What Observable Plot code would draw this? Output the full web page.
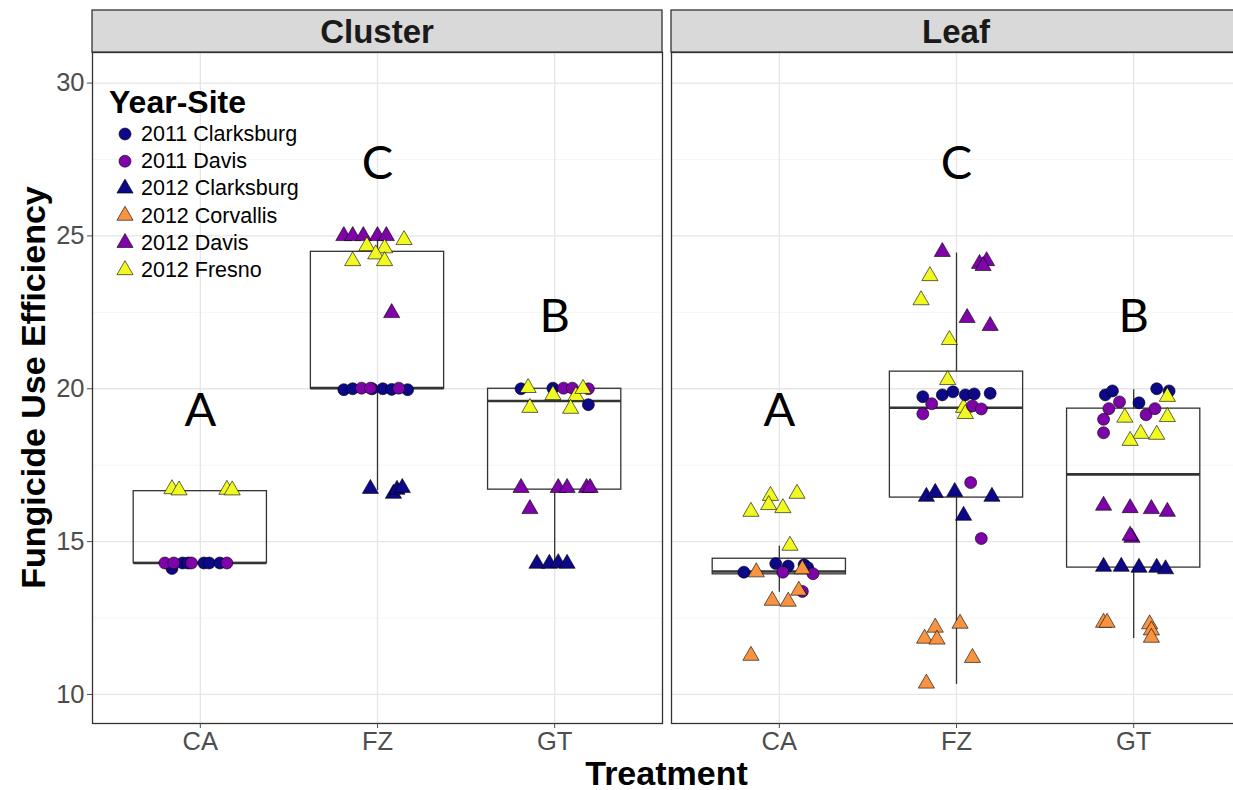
<!DOCTYPE html>
<html>
<head>
<meta charset="utf-8">
<script src="https://cdn.jsdelivr.net/npm/d3@7"></script>
<script src="https://cdn.jsdelivr.net/npm/@observablehq/plot@0.6"></script>
<style>
  html, body { margin: 0; padding: 0; background: #fff; overflow: hidden; }
  #chart { position: relative; width: 1242px; height: 790px; }
</style>
</head>
<body>
<div id="chart"></div>
<script>
// ---------------- data ----------------
const panels = ["Cluster", "Leaf"];
const treatments = ["CA", "FZ", "GT"];
const yearSites = ["2011 Clarksburg", "2011 Davis", "2012 Clarksburg", "2012 Corvallis", "2012 Davis", "2012 Fresno"];
const siteColors = ["#0D0887", "#7E03A8", "#0D0887", "#F89441", "#7E03A8", "#F0F921"];
const siteShapes = ["circle", "circle", "triangle", "triangle", "triangle", "triangle"];
const yTicks = [10, 15, 20, 25, 30];
const yMinorTicks = [12.5, 17.5, 22.5, 27.5];

// [treatment, year-site, fungicide use efficiency, horizontal jitter (category units)]
const clusterPoints = [
  ["CA", "2012 Fresno", 16.72, -0.16], ["CA", "2012 Fresno", 16.68, -0.12], ["CA", "2012 Fresno", 16.70, 0.15], ["CA", "2012 Fresno", 16.68, 0.18],
  ["CA", "2011 Clarksburg", 14.12, -0.16], ["CA", "2011 Clarksburg", 14.30, -0.10], ["CA", "2011 Clarksburg", 14.30, -0.07],
  ["CA", "2011 Clarksburg", 14.30, 0.02], ["CA", "2011 Clarksburg", 14.30, 0.05], ["CA", "2011 Clarksburg", 14.30, 0.11],
  ["CA", "2011 Davis", 14.30, -0.20], ["CA", "2011 Davis", 14.30, -0.15], ["CA", "2011 Davis", 14.30, -0.05], ["CA", "2011 Davis", 14.30, 0.15],

  ["FZ", "2012 Davis", 25.00, -0.19], ["FZ", "2012 Davis", 25.00, -0.14], ["FZ", "2012 Davis", 25.00, -0.08], ["FZ", "2012 Davis", 25.00, 0.00], ["FZ", "2012 Davis", 25.00, 0.05],
  ["FZ", "2012 Fresno", 24.87, 0.15], ["FZ", "2012 Fresno", 24.67, -0.06], ["FZ", "2012 Fresno", 24.60, 0.04], ["FZ", "2012 Fresno", 24.40, -0.01], ["FZ", "2012 Fresno", 24.18, -0.14], ["FZ", "2012 Fresno", 24.18, 0.04],
  ["FZ", "2012 Davis", 22.48, 0.08],
  ["FZ", "2011 Clarksburg", 19.97, -0.19], ["FZ", "2011 Clarksburg", 20.00, -0.14], ["FZ", "2011 Clarksburg", 20.00, -0.03], ["FZ", "2011 Clarksburg", 20.00, 0.03], ["FZ", "2011 Clarksburg", 19.98, 0.08], ["FZ", "2011 Clarksburg", 19.97, 0.17],
  ["FZ", "2011 Davis", 20.02, -0.09], ["FZ", "2011 Davis", 20.02, -0.04], ["FZ", "2011 Davis", 20.02, 0.12],
  ["FZ", "2012 Clarksburg", 16.73, -0.04], ["FZ", "2012 Clarksburg", 16.57, 0.09], ["FZ", "2012 Clarksburg", 16.70, 0.11], ["FZ", "2012 Clarksburg", 16.76, 0.14],

  ["GT", "2011 Clarksburg", 20.00, -0.19], ["GT", "2011 Clarksburg", 20.02, -0.01], ["GT", "2011 Clarksburg", 19.48, 0.19],
  ["GT", "2011 Davis", 20.02, 0.05], ["GT", "2011 Davis", 20.02, 0.10], ["GT", "2011 Davis", 20.00, 0.19],
  ["GT", "2012 Fresno", 20.03, -0.15], ["GT", "2012 Fresno", 19.38, -0.14], ["GT", "2012 Fresno", 19.80, -0.01], ["GT", "2012 Fresno", 19.77, 0.12], ["GT", "2012 Fresno", 20.00, 0.16], ["GT", "2012 Fresno", 19.35, 0.09],
  ["GT", "2012 Davis", 16.76, -0.19], ["GT", "2012 Davis", 16.76, 0.02], ["GT", "2012 Davis", 16.76, 0.07], ["GT", "2012 Davis", 16.76, 0.18], ["GT", "2012 Davis", 16.76, 0.20], ["GT", "2012 Davis", 16.07, -0.14],
  ["GT", "2012 Clarksburg", 14.28, -0.10], ["GT", "2012 Clarksburg", 14.28, -0.03], ["GT", "2012 Clarksburg", 14.30, 0.02], ["GT", "2012 Clarksburg", 14.28, 0.07]
];

const leafPoints = [
  ["CA", "2012 Fresno", 16.50, -0.05], ["CA", "2012 Fresno", 16.57, 0.10], ["CA", "2012 Fresno", 16.20, -0.06], ["CA", "2012 Fresno", 16.10, 0.02], ["CA", "2012 Fresno", 15.98, -0.16], ["CA", "2012 Fresno", 14.87, 0.06],
  ["CA", "2011 Clarksburg", 14.00, -0.20], ["CA", "2011 Clarksburg", 14.28, -0.02], ["CA", "2011 Clarksburg", 14.20, 0.05], ["CA", "2011 Clarksburg", 14.24, 0.14], ["CA", "2011 Clarksburg", 14.15, 0.16],
  ["CA", "2011 Davis", 14.00, 0.02], ["CA", "2011 Davis", 13.95, 0.19], ["CA", "2011 Davis", 13.37, 0.13],
  ["CA", "2012 Corvallis", 14.00, -0.13], ["CA", "2012 Corvallis", 14.10, 0.13], ["CA", "2012 Corvallis", 13.40, 0.11], ["CA", "2012 Corvallis", 13.07, -0.04], ["CA", "2012 Corvallis", 13.04, 0.05], ["CA", "2012 Corvallis", 11.27, -0.16],

  ["FZ", "2012 Davis", 24.48, -0.08], ["FZ", "2012 Davis", 24.09, 0.13], ["FZ", "2012 Davis", 24.18, 0.17], ["FZ", "2012 Davis", 24.02, 0.15], ["FZ", "2012 Davis", 22.32, 0.06], ["FZ", "2012 Davis", 22.06, 0.19],
  ["FZ", "2012 Fresno", 23.69, -0.15], ["FZ", "2012 Fresno", 22.90, -0.20], ["FZ", "2012 Fresno", 21.60, -0.04], ["FZ", "2012 Fresno", 20.29, -0.05], ["FZ", "2012 Fresno", 19.38, 0.04], ["FZ", "2012 Fresno", 19.18, 0.05],
  ["FZ", "2011 Clarksburg", 19.74, -0.19], ["FZ", "2011 Clarksburg", 19.80, -0.08], ["FZ", "2011 Clarksburg", 19.90, -0.02], ["FZ", "2011 Clarksburg", 19.80, 0.05], ["FZ", "2011 Clarksburg", 19.83, 0.10], ["FZ", "2011 Clarksburg", 19.85, 0.19],
  ["FZ", "2011 Davis", 19.51, -0.14], ["FZ", "2011 Davis", 19.18, -0.19], ["FZ", "2011 Davis", 19.44, 0.09], ["FZ", "2011 Davis", 19.34, 0.14], ["FZ", "2011 Davis", 16.93, 0.08], ["FZ", "2011 Davis", 15.10, 0.14],
  ["FZ", "2012 Clarksburg", 16.47, -0.17], ["FZ", "2012 Clarksburg", 16.60, -0.12], ["FZ", "2012 Clarksburg", 16.63, -0.01], ["FZ", "2012 Clarksburg", 16.47, 0.20], ["FZ", "2012 Clarksburg", 15.85, 0.04],
  ["FZ", "2012 Corvallis", 12.19, -0.12], ["FZ", "2012 Corvallis", 12.32, 0.02], ["FZ", "2012 Corvallis", 11.83, -0.18], ["FZ", "2012 Corvallis", 11.80, -0.11], ["FZ", "2012 Corvallis", 11.20, 0.09], ["FZ", "2012 Corvallis", 10.36, -0.17],

  ["GT", "2011 Clarksburg", 19.80, -0.16], ["GT", "2011 Clarksburg", 19.93, -0.12], ["GT", "2011 Clarksburg", 20.00, 0.13], ["GT", "2011 Clarksburg", 19.93, 0.20], ["GT", "2011 Clarksburg", 19.54, 0.03],
  ["GT", "2011 Davis", 19.57, -0.08], ["GT", "2011 Davis", 19.35, -0.14], ["GT", "2011 Davis", 19.00, -0.17], ["GT", "2011 Davis", 18.56, -0.17], ["GT", "2011 Davis", 19.15, 0.07], ["GT", "2011 Davis", 19.35, 0.12],
  ["GT", "2012 Fresno", 19.74, 0.19], ["GT", "2012 Fresno", 19.06, -0.05], ["GT", "2012 Fresno", 19.08, 0.19], ["GT", "2012 Fresno", 18.53, 0.04], ["GT", "2012 Fresno", 18.50, 0.13], ["GT", "2012 Fresno", 18.30, -0.02],
  ["GT", "2012 Davis", 16.18, -0.17], ["GT", "2012 Davis", 16.10, -0.02], ["GT", "2012 Davis", 16.07, 0.10], ["GT", "2012 Davis", 15.98, 0.19], ["GT", "2012 Davis", 15.13, -0.01], ["GT", "2012 Davis", 15.20, -0.02],
  ["GT", "2012 Clarksburg", 14.18, -0.17], ["GT", "2012 Clarksburg", 14.18, -0.07], ["GT", "2012 Clarksburg", 14.15, 0.03], ["GT", "2012 Clarksburg", 14.15, 0.13], ["GT", "2012 Clarksburg", 14.10, 0.18],
  ["GT", "2012 Corvallis", 12.35, -0.17], ["GT", "2012 Corvallis", 12.35, -0.15], ["GT", "2012 Corvallis", 12.30, 0.09], ["GT", "2012 Corvallis", 12.10, 0.10], ["GT", "2012 Corvallis", 11.86, 0.10]
];

// box-plot statistics
const boxPanel = ["Cluster", "Cluster", "Cluster", "Leaf", "Leaf", "Leaf"];
const boxTreatment = ["CA", "FZ", "GT", "CA", "FZ", "GT"];
const boxLow = [14.30, 16.67, 14.30, 13.34, 10.33, 11.83];
const boxQ1 = [14.30, 20.00, 16.70, 13.93, 16.44, 14.15];
const boxMedian = [14.30, 20.02, 19.60, 14.02, 19.38, 17.20];
const boxQ3 = [16.65, 24.48, 20.00, 14.44, 20.56, 19.35];
const boxHigh = [16.65, 25.00, 20.00, 14.85, 24.44, 19.97];

// significance letters
const letterPanel = ["Cluster", "Cluster", "Cluster", "Leaf", "Leaf", "Leaf"];
const letterTreatment = ["CA", "FZ", "GT", "CA", "FZ", "GT"];
const letterText = ["A", "C", "B", "A", "C", "B"];
const letterY = [19.28, 27.35, 22.35, 19.28, 27.35, 22.35];

// ---------------- tables ----------------
const tIndex = t => treatments.indexOf(t);
const points = [
  ...clusterPoints.map(([t, g, v, j]) => ({panel: "Cluster", trt: t, grp: g, value: v, xj: tIndex(t) + j})),
  ...leafPoints.map(([t, g, v, j]) => ({panel: "Leaf", trt: t, grp: g, value: v, xj: tIndex(t) + j}))
];
const boxes = boxPanel.map((p, i) => ({
  panel: p, i: tIndex(boxTreatment[i]),
  lo: boxLow[i], q1: boxQ1[i], med: boxMedian[i], q3: boxQ3[i], hi: boxHigh[i]
}));
const letters = letterPanel.map((p, i) => ({panel: p, i: tIndex(letterTreatment[i]), y: letterY[i], text: letterText[i]}));

const HW = 0.376; // half box width in category units
const boxStroke = "#333333";

const chart = Plot.plot({
  width: 1242,
  height: 790,
  marginLeft: 91,
  marginRight: 0,
  marginTop: 52,
  marginBottom: 67,
  style: {fontFamily: "'Liberation Sans', Arial, sans-serif", background: "white", overflow: "visible"},
  fx: {domain: panels, paddingInner: 0.0155, paddingOuter: 0, axis: null, label: null},
  x: {domain: [-0.6085, 2.6085], label: null},
  y: {domain: [9.05, 31], label: null},
  color: {domain: yearSites, range: siteColors},
  symbol: {domain: yearSites, range: siteShapes},
  marks: [
    Plot.gridY({ticks: yMinorTicks, stroke: "#f2f2f2", strokeOpacity: 1, strokeWidth: 0.8}),
    Plot.gridY({ticks: yTicks, stroke: "#e6e6e6", strokeOpacity: 1, strokeWidth: 1.3}),
    Plot.gridX({ticks: [0, 1, 2], stroke: "#e6e6e6", strokeOpacity: 1, strokeWidth: 1.3}),
    Plot.ruleX(boxes, {fx: "panel", x: "i", y1: "lo", y2: "q1", stroke: boxStroke, strokeWidth: 1.3}),
    Plot.ruleX(boxes, {fx: "panel", x: "i", y1: "q3", y2: "hi", stroke: boxStroke, strokeWidth: 1.3}),
    Plot.rect(boxes, {fx: "panel", x1: d => d.i - HW, x2: d => d.i + HW, y1: "q1", y2: "q3", fill: "none", stroke: boxStroke, strokeWidth: 1.3}),
    Plot.ruleY(boxes, {fx: "panel", y: "med", x1: d => d.i - HW, x2: d => d.i + HW, stroke: boxStroke, strokeWidth: 2.6}),
    Plot.dot(points, {fx: "panel", x: "xj", y: "value", fill: "grp", symbol: "grp", r: 6, stroke: "#000", strokeWidth: 0.6}),
    Plot.text(letters, {fx: "panel", x: "i", y: "y", text: "text", fontSize: 47, fontFamily: "Lato, 'Open Sans', sans-serif", fill: "#000"}),
    Plot.frame({stroke: boxStroke, strokeWidth: 1.3}),
    Plot.axisY({ticks: yTicks, tickSize: 5, tickPadding: 3, fontSize: 25.5, color: "#4d4d4d", label: null}),
    Plot.axisX({ticks: [0, 1, 2], tickFormat: i => treatments[i], tickSize: 5, tickPadding: 3, fontSize: 25.5, color: "#4d4d4d", label: null})
  ]
});

document.getElementById("chart").appendChild(chart);

// ---------------- strips, titles, legend ----------------
const svg = d3.select(chart);
const fx = chart.scale("fx");
const bw = fx.bandwidth;
const FONT = "'Liberation Sans', Arial, sans-serif";

const strips = svg.append("g");
panels.forEach(p => {
  const x0 = fx.apply(p);
  strips.append("rect").attr("x", x0).attr("y", 10).attr("width", bw).attr("height", 42)
    .attr("fill", "#d9d9d9").attr("stroke", boxStroke).attr("stroke-width", 1.3);
  strips.append("text").attr("x", x0 + bw / 2).attr("y", 31).attr("text-anchor", "middle")
    .attr("dominant-baseline", "central").attr("font-family", FONT).attr("font-weight", "bold")
    .attr("font-size", 33).attr("fill", "#1a1a1a").text(p);
});

svg.append("text").attr("transform", "translate(33,387.5) rotate(-90)")
  .attr("text-anchor", "middle").attr("dominant-baseline", "central")
  .attr("font-family", FONT).attr("font-weight", "bold").attr("font-size", 34).attr("fill", "#000")
  .text("Fungicide Use Efficiency");

svg.append("text").attr("x", (91 + 1242) / 2).attr("y", 773)
  .attr("text-anchor", "middle").attr("dominant-baseline", "central")
  .attr("font-family", FONT).attr("font-weight", "bold").attr("font-size", 34).attr("fill", "#000")
  .text("Treatment");

const legend = svg.append("g").attr("text-anchor", "start");
legend.append("text").attr("x", 109).attr("y", 113).attr("text-anchor", "start")
  .attr("font-family", FONT).attr("font-weight", "bold").attr("font-size", 32).attr("fill", "#000")
  .text("Year-Site");
yearSites.forEach((g, k) => {
  const cy = 134 + 27.2 * k;
  const type = siteShapes[k] === "circle" ? d3.symbolCircle : d3.symbolTriangle;
  legend.append("path").attr("d", d3.symbol(type, Math.PI * 36)())
    .attr("transform", `translate(125,${cy})`)
    .attr("fill", siteColors[k]).attr("stroke", "#000").attr("stroke-width", 0.6);
  legend.append("text").attr("x", 141).attr("y", cy).attr("text-anchor", "start")
    .attr("dominant-baseline", "central")
    .attr("font-family", FONT).attr("font-size", 21.5).attr("fill", "#000").text(g);
});
</script>
</body>
</html>
